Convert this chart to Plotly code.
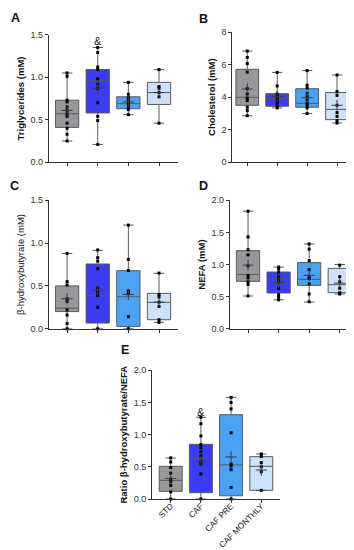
import plotly.graph_objects as go

groups = ["STD", "CAF", "CAF PRE", "CAF MONTHLY"]
colors = ["#98989c", "#3b3bf2", "#4aa2f4", "#cde1fa"]

# ---- Panel A: Triglycerides (mM)
tg_points = [
    [1.05, 1.01, 0.73, 0.71, 0.65, 0.61, 0.57, 0.54, 0.46, 0.40, 0.33, 0.25],
    [1.35, 1.29, 1.12, 1.09, 0.98, 0.92, 0.87, 0.70, 0.54, 0.49, 0.21],
    [0.94, 0.80, 0.76, 0.74, 0.71, 0.68, 0.65, 0.62, 0.56],
    [1.09, 0.89, 0.87, 0.82, 0.77, 0.46],
]
tg_q1 = [0.41, 0.58, 0.63, 0.68]
tg_med = [0.57, 0.96, 0.69, 0.82]
tg_q3 = [0.73, 1.09, 0.77, 0.94]
tg_min = [0.25, 0.21, 0.56, 0.46]
tg_max = [1.05, 1.35, 0.94, 1.09]
tg_mean = [0.61, 0.87, 0.71, 0.82]

# ---- Panel B: Cholesterol (mM)
ch_points = [
    [6.83, 6.44, 6.06, 5.54, 4.52, 4.19, 3.95, 3.79, 3.38, 3.17, 2.86],
    [5.52, 4.69, 4.19, 4.05, 3.91, 3.79, 3.64, 3.48, 3.34],
    [5.63, 4.73, 4.56, 4.24, 4.03, 3.83, 3.62, 3.48, 3.34, 2.99],
    [5.36, 4.34, 4.11, 3.50, 3.05, 2.82, 2.56, 2.41],
]
ch_q1 = [3.50, 3.44, 3.38, 2.62]
ch_med = [3.99, 3.93, 3.62, 3.25]
ch_q3 = [5.71, 4.21, 4.52, 4.28]
ch_min = [2.86, 3.34, 2.99, 2.41]
ch_max = [6.83, 5.52, 5.63, 5.36]
ch_mean = [4.50, 4.05, 3.97, 3.50]

# ---- Panel C: beta-hydroxybutyrate (mM)
bh_points = [
    [0.88, 0.55, 0.51, 0.35, 0.32, 0.22, 0.16, 0.06, 0.0],
    [0.92, 0.83, 0.79, 0.70, 0.475, 0.43, 0.39, 0.25, 0.0],
    [1.21, 0.81, 0.68, 0.44, 0.41, 0.14, 0.0],
    [0.65, 0.40, 0.37, 0.31, 0.26, 0.105, 0.074],
]
bh_q1 = [0.20, 0.066, 0.027, 0.105]
bh_med = [0.24, 0.39, 0.374, 0.308]
bh_q3 = [0.50, 0.756, 0.678, 0.413]
bh_min = [0.0, 0.0, 0.0, 0.074]
bh_max = [0.88, 0.915, 1.21, 0.647]
bh_mean = [0.35, 0.45, 0.40, 0.31]

# ---- Panel D: NEFA (mM)
nf_points = [
    [1.83, 1.43, 1.23, 1.15, 0.98, 0.83, 0.79, 0.73, 0.69, 0.51],
    [0.96, 0.93, 0.88, 0.81, 0.76, 0.73, 0.63, 0.53, 0.49, 0.45],
    [1.32, 1.24, 1.06, 0.92, 0.81, 0.78, 0.70, 0.54, 0.42],
    [0.99, 0.81, 0.73, 0.63, 0.56, 0.54],
]
nf_q1 = [0.738, 0.556, 0.675, 0.561]
nf_med = [0.842, 0.774, 0.769, 0.686]
nf_q3 = [1.216, 0.883, 1.03, 0.94]
nf_min = [0.51, 0.45, 0.416, 0.54]
nf_max = [1.83, 0.96, 1.32, 1.0]
nf_mean = [0.99, 0.72, 0.83, 0.71]

# ---- Panel E: Ratio beta-hydroxybutyrate/NEFA
ra_points = [
    [0.64, 0.575, 0.49, 0.40, 0.31, 0.27, 0.21, 0.11, 0.0],
    [1.27, 1.17, 0.98, 0.845, 0.80, 0.735, 0.67, 0.585, 0.544, 0.39, 0.0],
    [1.58, 1.50, 1.40, 1.03, 0.544, 0.513, 0.456, 0.18, 0.0],
    [0.70, 0.66, 0.565, 0.50, 0.425, 0.135],
]
ra_q1 = [0.119, 0.098, 0.05, 0.135]
ra_med = [0.29, 0.632, 0.53, 0.508]
ra_q3 = [0.508, 0.85, 1.31, 0.658]
ra_min = [0.0, 0.0, 0.0, 0.135]
ra_max = [0.637, 1.27, 1.58, 0.70]
ra_mean = [0.32, 0.585, 0.653, 0.45]

panels = [
    ("A", tg_points, tg_q1, tg_med, tg_q3, tg_min, tg_max, tg_mean, "Triglycerides (mM)", [0, 1.5], 0.5,
     (40.7, 170), (154.3, 26.7), [-0.6, 3.62], True),
    ("B", ch_points, ch_q1, ch_med, ch_q3, ch_min, ch_max, ch_mean, "Cholesterol (mM)", [0, 8], 2,
     (224.3, 346.7), (154.3, 24.0), [-0.5, 3.59], True),
    ("C", bh_points, bh_q1, bh_med, bh_q3, bh_min, bh_max, bh_mean, "β-hydroxybutyrate (mM)", [0, 1.5], 0.5,
     (40.7, 170), (320.7, 192.3), [-0.6, 3.62], False),
    ("D", nf_points, nf_q1, nf_med, nf_q3, nf_min, nf_max, nf_mean, "NEFA (mM)", [0, 2], 0.5,
     (221.7, 346.7), (320.7, 192.3), [-0.6, 3.49], True),
    ("E", ra_points, ra_q1, ra_med, ra_q3, ra_min, ra_max, ra_mean, "Ratio β-hydroxybutyrate/NEFA", [0, 2], 0.5,
     (144.0, 272.3), (491.0, 362.3), [-0.62, 3.63], True),
]

W, H = 354, 550
FONT = "Liberation Sans, Arial, sans-serif"
AX = "#333333"

fig = go.Figure()
layout = dict(
    width=W, height=H, margin=dict(l=0, r=0, t=0, b=0),
    paper_bgcolor="white", plot_bgcolor="white", showlegend=False,
    font=dict(family=FONT, size=9, color="#222222"),
)

for i, (name, pts, q1, med, q3, mn, mx, mean, ytitle, yr, dt, xd, yd, xr, bold) in enumerate(panels):
    n = i + 1
    xa = "x" if n == 1 else f"x{n}"
    ya = "y" if n == 1 else f"y{n}"
    for g in range(4):
        fig.add_trace(go.Box(
            x=[g], q1=[q1[g]], median=[med[g]], q3=[q3[g]],
            lowerfence=[mn[g]], upperfence=[mx[g]],
            width=0.76, whiskerwidth=0.45,
            fillcolor=colors[g], line=dict(color="#5a5a5a", width=1),
            boxpoints=False, xaxis=xa, yaxis=ya, hoverinfo="skip",
        ))
        fig.add_trace(go.Scatter(
            x=[g] * len(pts[g]), y=pts[g], mode="markers",
            marker=dict(symbol="square", size=3, color="black"),
            xaxis=xa, yaxis=ya, cliponaxis=False, hoverinfo="skip",
        ))
        fig.add_trace(go.Scatter(
            x=[g], y=[mean[g]], mode="markers",
            marker=dict(symbol="cross-thin-open", size=8, color="#3a3a3a",
                        line=dict(color="#3a3a3a", width=1)),
            xaxis=xa, yaxis=ya, cliponaxis=False, hoverinfo="skip",
        ))
    xkey = "xaxis" if n == 1 else f"xaxis{n}"
    ykey = "yaxis" if n == 1 else f"yaxis{n}"
    layout[xkey] = dict(
        domain=[xd[0] / W, xd[1] / W], range=xr, anchor=ya,
        showline=True, linecolor=AX, linewidth=1, showgrid=False, zeroline=False,
        ticks="outside", ticklen=3, tickcolor=AX, tickwidth=1,
        tickvals=[0, 1, 2, 3],
        ticktext=groups if name == "E" else ["", "", "", ""],
        tickangle=-45 if name == "E" else 0,
        tickfont=dict(size=8.3, color="#222222"),
        ticklabelstandoff=-5 if name == "E" else 0,
        automargin=False,
        fixedrange=True,
    )
    ttl = f"<b>{ytitle}</b>" if bold else ytitle
    layout[ykey] = dict(
        domain=[1 - yd[0] / H, 1 - yd[1] / H], range=yr, anchor=xa,
        showline=True, linecolor=AX, linewidth=1, showgrid=False, zeroline=False,
        ticks="outside", ticklen=3, tickcolor=AX, tickwidth=1, dtick=dt,
        tickformat=".1f" if dt < 1 else "d",
        tickfont=dict(size=9, color="#333333"),
        title=dict(text=ttl, font=dict(size=9.5, color="#111111"), standoff=4),
        automargin=False,
        fixedrange=True,
    )

annotations = []
letters = [("A", 7.3, 10), ("B", 195, 10.7), ("C", 6.5, 178), ("D", 195, 178), ("E", 117.3, 341.7)]
for t, px, py in letters:
    annotations.append(dict(text=f"<b>{t}</b>", x=px / W, y=1 - py / H, xref="paper", yref="paper",
                            showarrow=False, font=dict(size=12.5, color="#111111"),
                            xanchor="center", yanchor="middle"))
annotations.append(dict(text="&", x=1, y=1.43, xref="x", yref="y", showarrow=False,
                        font=dict(size=11, color="#111111"), yanchor="middle"))
annotations.append(dict(text="&", x=1, y=1.35, xref="x5", yref="y5", showarrow=False,
                        font=dict(size=11, color="#111111"), yanchor="middle"))
layout["annotations"] = annotations

fig.update_layout(**layout)
fig.write_html("out.html")
